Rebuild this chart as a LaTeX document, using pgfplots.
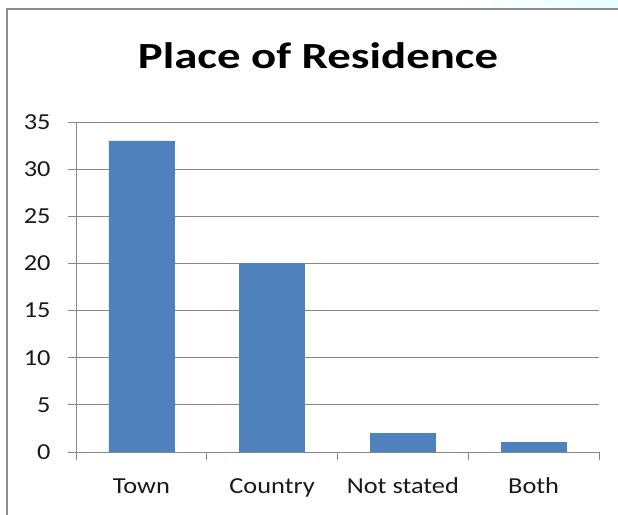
\documentclass[border=0pt]{standalone}
\usepackage{fontspec}
\setmainfont{Carlito}
\usepackage{pgfplots}
\pgfplotsset{compat=1.18}
\definecolor{barblue}{HTML}{4F81BD}
\definecolor{gridgray}{HTML}{878787}
\definecolor{framegray}{HTML}{8C8C8C}
\begin{document}
\begin{tikzpicture}
\useasboundingbox (-76bp,-63bp) rectangle (542bp,452bp);
\shade[left color=white, right color=cyan!10] (380bp,443bp) rectangle (542bp,452bp);
\draw[framegray, line width=2bp] (-69bp,-63bp) -- (-69bp,443bp) -- (542bp,443bp);
\begin{axis}[
  at={(0,0)}, anchor=south west,
  scale only axis,
  width=523bp, height=330bp,
  xmin=-0.5, xmax=3.5, ymin=0, ymax=35,
  axis x line*=bottom, axis y line*=left,
  axis line style={gridgray, line width=1bp, -},
  ybar, bar width=65bp,
  ytick={0,5,...,35},
  xtick={-0.5,0.5,1.5,2.5,3.5},
  xticklabels={},
  x tick style={gridgray, line width=1bp},
  extra x ticks={0,1,2,3},
  extra x tick labels={Town,Country,Not stated,Both},
  extra x tick style={major tick length=0pt, tick style={draw=none}},
  ymajorgrids,
  grid style={gridgray, line width=1bp},
  y tick style={gridgray, line width=1bp},
  tick align=outside,
  major tick length=8bp,
  /pgf/number format/assume math mode=true,
  tick label style={font=\fontsize{23}{27}\selectfont, xscale=1.15, text=black!90},
  yticklabel style={anchor=east, inner sep=0pt, xshift=-15bp},
  xticklabel style={anchor=base, inner sep=0pt, yshift=-41bp},
]
\addplot[fill=barblue, draw=barblue] coordinates {(0,33) (1,20) (2,2) (3,1)};
\end{axis}
\node[anchor=base, font=\bfseries\fontsize{37}{44}\selectfont, xscale=1.27, inner sep=0pt] at (242bp,383bp) {Place of Residence};
\end{tikzpicture}
\end{document}
